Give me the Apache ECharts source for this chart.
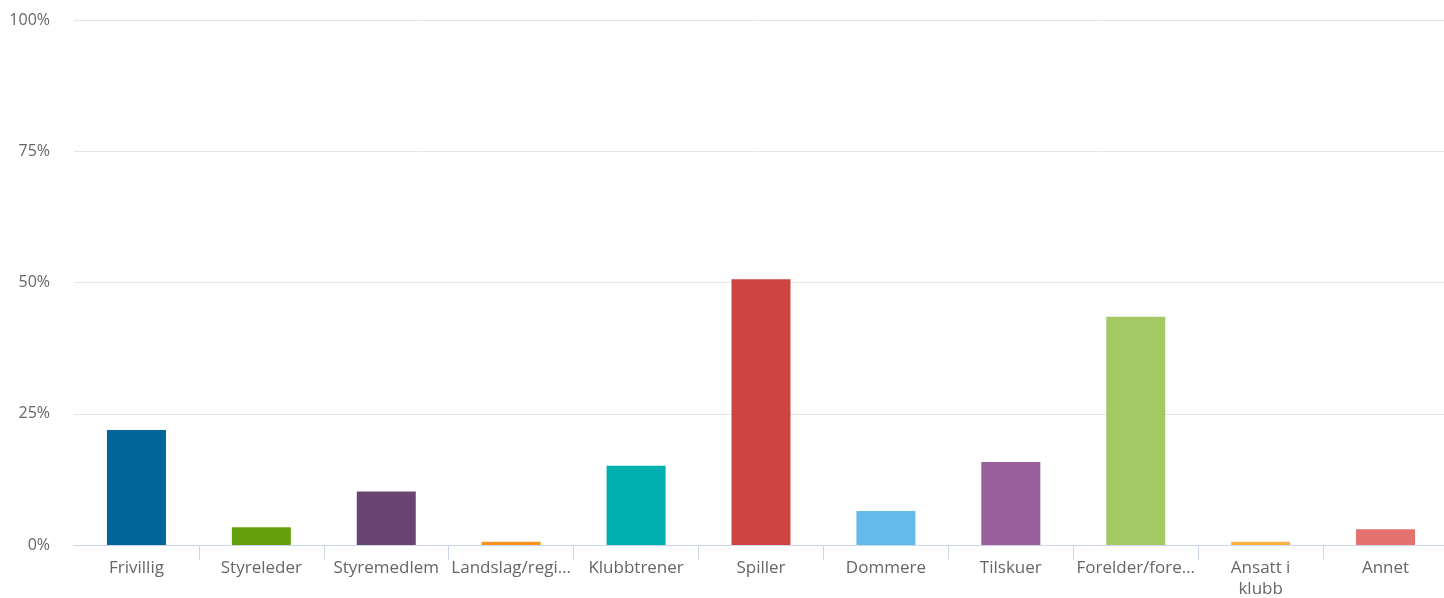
<!DOCTYPE html>
<html>
<head>
<meta charset="utf-8">
<script src="https://cdn.jsdelivr.net/npm/echarts@6/dist/echarts.min.js"></script>
<style>html,body{margin:0;padding:0;background:#fff;}#chart{width:1444px;height:598px;}</style>
</head>
<body>
<div id="chart"></div>
<script>
const categories = ['Frivillig','Styreleder','Styremedlem','Landslag/regi…','Klubbtrener','Spiller','Dommere','Tilskuer','Forelder/fore…','Ansatt i klubb','Annet'];
const values = [21.9, 3.4, 10.2, 0.6, 15.1, 50.6, 6.5, 15.8, 43.5, 0.6, 3.0];
const colors = ['#006699','#669f0d','#6b4572','#f7941d','#00afaf','#d04343','#64bbeb','#985f9b','#a2c964','#fbb245','#e57070'];
const yTicks = [0, 25, 50, 75, 100];

const chart = echarts.init(document.getElementById('chart'));
chart.setOption({
  animation: false,
  grid: {left: 74, right: -4, top: 20, bottom: 53, containLabel: false, outerBoundsMode: 'none'},
  xAxis: {
    type: 'category',
    data: categories,
    axisLine: {lineStyle: {color: '#ccd6eb', width: 1}},
    axisTick: {show: true, length: 15, lineStyle: {color: '#ccd6eb'}, interval: (i) => i > 0},
    axisLabel: {
      color: '#666', fontSize: 17, fontFamily: 'Open Sans', margin: 13, interval: 0, lineHeight: 21,
      formatter: v => v === 'Ansatt i klubb' ? 'Ansatt i\nklubb' : v
    }
  },
  yAxis: {
    type: 'value', min: 0, max: 100, interval: 25,
    axisLine: {show: false}, axisTick: {show: false},
    splitLine: {lineStyle: {color: '#e6e6e6'}},
    axisLabel: {color: '#666', fontSize: 16, fontFamily: 'Open Sans', margin: 24,
      formatter: v => yTicks.includes(v) ? v + '%' : ''}
  },
  series: [{
    type: 'bar',
    barWidth: 59,
    data: values.map((v, i) => ({value: v, itemStyle: {color: colors[i]}}))
  }]
});
</script>
</body>
</html>
